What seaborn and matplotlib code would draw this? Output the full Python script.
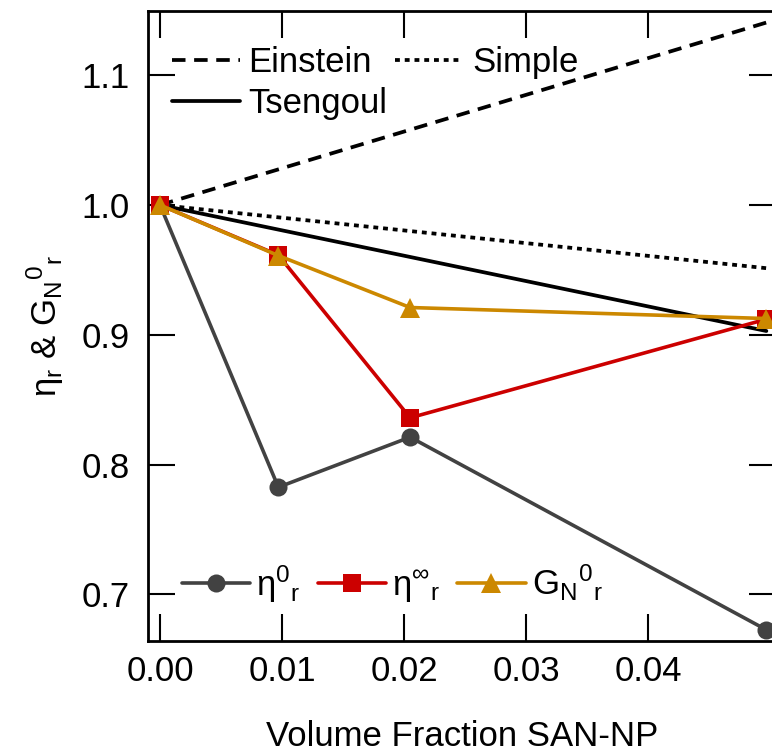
import numpy as np
import pandas as pd
import matplotlib
matplotlib.use("Agg")
import matplotlib.pyplot as plt
from matplotlib.lines import Line2D
import seaborn as sns

# Volume fraction of SAN nanoparticles
phi = [0.0, 0.0097, 0.0205, 0.0497]

# Measured relative quantities
eta0_r = [1.0, 0.7825, 0.8211, 0.6726]
etainf_r = [1.0, 0.9614, 0.836, 0.912]
GN0_r = [1.0, 0.961, 0.921, 0.9125]

# Model predictions (end points of straight lines)
phi_model = [0.0, 0.0497]
einstein = [1.0, 1.1406]
simple = [1.0, 0.9513]
tsengoul = [1.0, 0.9029]

xticks = [0.00, 0.01, 0.02, 0.03, 0.04]
yticks = [0.7, 0.8, 0.9, 1.0, 1.1]

sns.set_style("ticks")
plt.rcParams["font.family"] = ["Liberation Sans", "DejaVu Sans"]
plt.rcParams["mathtext.fontset"] = "custom"
plt.rcParams["mathtext.rm"] = "Liberation Sans"
plt.rcParams["mathtext.it"] = "Liberation Sans"
plt.rcParams["mathtext.bf"] = "Liberation Sans"
plt.rcParams["mathtext.default"] = "regular"
for key in ("text.color", "axes.labelcolor", "xtick.color", "ytick.color",
            "axes.edgecolor"):
    plt.rcParams[key] = "black"

FS = 25
GRAY = "#424242"
RED = "#CC0000"
GOLD = "#CC8800"

fig = plt.figure(figsize=(7.72, 7.55), dpi=100)
ax = fig.add_axes([148 / 772, 1 - 641 / 755, 628 / 772, 630 / 755])

model = pd.DataFrame({"phi": phi_model, "Einstein": einstein,
                      "Simple": simple, "Tsengoul": tsengoul})
lw_m = 2.7
DASH = (3.6, 2.3)
DOT = (1.3, 1.3)
sns.lineplot(data=model, x="phi", y="Einstein", ax=ax, color="black",
             linewidth=lw_m, estimator=None, sort=False)
ax.lines[-1].set_dashes(DASH)
sns.lineplot(data=model, x="phi", y="Simple", ax=ax, color="black",
             linewidth=lw_m, estimator=None, sort=False)
ax.lines[-1].set_dashes(DOT)
sns.lineplot(data=model, x="phi", y="Tsengoul", ax=ax, color="black",
             linewidth=lw_m, estimator=None, sort=False)

meas = pd.DataFrame({"phi": phi, "eta0": eta0_r, "etainf": etainf_r,
                     "GN0": GN0_r})
lw_d = 2.6
MS_O, MS_S, MS_T = 13, 13, 14.5
sns.lineplot(data=meas, x="phi", y="eta0", ax=ax, color=GRAY,
             linewidth=lw_d, marker="o", markersize=MS_O,
             markeredgewidth=0, estimator=None, sort=False)
sns.lineplot(data=meas, x="phi", y="etainf", ax=ax, color=RED,
             linewidth=lw_d, marker="s", markersize=MS_S,
             markeredgewidth=0, estimator=None, sort=False)
sns.lineplot(data=meas, x="phi", y="GN0", ax=ax, color=GOLD,
             linewidth=lw_d, marker="^", markersize=MS_T,
             markeredgewidth=0, estimator=None, sort=False)

ax.set_xlim(-0.000984, 0.05049)
ax.set_ylim(0.664, 1.1495)
ax.set_xticks(xticks)
ax.set_xticklabels([f"{t:.2f}" for t in xticks])
ax.set_yticks(yticks)
ax.set_yticklabels([f"{t:.1f}" for t in yticks])

ax.tick_params(axis="both", which="major", direction="in", length=19.5,
               width=1.5, labelsize=FS, top=True, right=True,
               color="black", labelcolor="black")
ax.tick_params(axis="y", pad=13)
ax.tick_params(axis="x", pad=10)
for s in ax.spines.values():
    s.set_linewidth(2.0)
    s.set_color("black")

ax.set_xlabel("Volume Fraction SAN-NP", fontsize=FS, color="black")
ax.set_ylabel(r"$\eta_r$ & G$_{N}{}^{0}{}_{r}$", fontsize=FS, color="black")
ax.xaxis.set_label_coords(0.5, -0.125)
ax.yaxis.set_label_coords(-0.131, 0.5)

# Model legend (top left); column-major fill gives Einstein/Simple on row 1
h1 = [Line2D([], [], color="black", lw=lw_m, dashes=DASH),
      Line2D([], [], color="black", lw=lw_m),
      Line2D([], [], color="black", lw=lw_m, dashes=DOT)]
leg1 = ax.legend(h1, ["Einstein", "Tsengoul", "Simple"], ncol=2,
                 loc="upper left", bbox_to_anchor=(0.038, 0.944),
                 frameon=False, fontsize=FS, handlelength=1.95,
                 handletextpad=0.26, columnspacing=0.22, labelspacing=0.22,
                 borderpad=0, borderaxespad=0)
ax.add_artist(leg1)

# Measurement legend (bottom left)
h2 = [Line2D([], [], color=GRAY, lw=lw_d, marker="o", markersize=MS_O,
             markeredgewidth=0),
      Line2D([], [], color=RED, lw=lw_d, marker="s", markersize=MS_S,
             markeredgewidth=0),
      Line2D([], [], color=GOLD, lw=lw_d, marker="^", markersize=MS_T,
             markeredgewidth=0)]
labels2 = [r"$\eta{}^{0}{}_{r}$", r"$\eta{}^{\infty}{}_{r}$",
           r"G$_{N}{}^{0}{}_{r}$"]
ax.legend(h2, labels2, ncol=3, loc="center left",
          bbox_to_anchor=(0.054, 0.0905), frameon=False, fontsize=FS,
          handlelength=1.97, handletextpad=0.17, columnspacing=0.5,
          borderpad=0, borderaxespad=0)

fig.savefig("out.png", dpi=100)
